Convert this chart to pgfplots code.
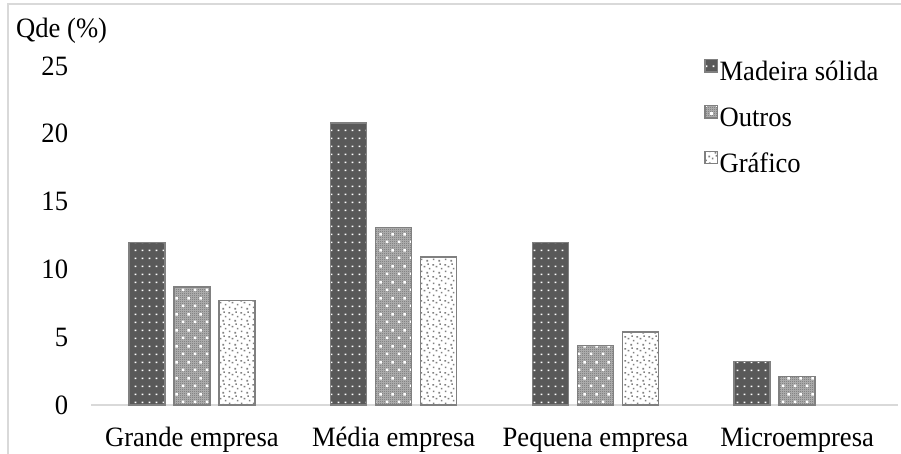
\documentclass[border=0pt]{standalone}
\usepackage{pgfplots}
\pgfplotsset{compat=1.18}
\usepackage{fontspec}
\setmainfont{Liberation Serif}[FakeStretch=0.95]
\usetikzlibrary{patterns.meta}
\definecolor{mdark}{HTML}{595959}
\definecolor{bord}{HTML}{808080}
\definecolor{frame}{HTML}{D9D9D9}
\definecolor{chk}{HTML}{505050}
\definecolor{chkbg}{HTML}{B8B8B8}
\tikzdeclarepattern{name=sqdots, type=uncolored,
  bottom left={(0pt,0pt)}, top right={(7.4pt,8pt)}, tile size={(7.4pt,8pt)},
  code={\fill (2.9pt,3.2pt) rectangle ++(1.8pt,1.8pt);}}
\tikzdeclarepattern{name=sparsedots, type=uncolored,
  bottom left={(0pt,0pt)}, top right={(12pt,16pt)}, tile size={(12pt,16pt)},
  code={\fill (2pt,3pt) rectangle ++(2.6pt,2.6pt); \fill (8pt,11pt) rectangle ++(2.6pt,2.6pt);}}
\tikzdeclarepattern{name=checker, type=uncolored,
  bottom left={(0pt,0pt)}, top right={(2pt,2pt)}, tile size={(2pt,2pt)},
  code={\fill (0pt,0pt) rectangle (1pt,1pt); \fill (1pt,1pt) rectangle (2pt,2pt);}}
\tikzdeclarepattern{name=scatter, type=uncolored,
  bottom left={(0pt,0pt)}, top right={(12pt,12pt)}, tile size={(12pt,12pt)},
  code={\fill (1pt,2pt) rectangle ++(1.7pt,1.7pt);
        \fill (7pt,0.5pt) rectangle ++(1.7pt,1.7pt);
        \fill (4pt,7pt) rectangle ++(1.7pt,1.7pt);
        \fill (9.5pt,5pt) rectangle ++(1.7pt,1.7pt);
        \fill (8pt,9.8pt) rectangle ++(1.7pt,1.7pt);
        \fill (0.5pt,9pt) rectangle ++(1.7pt,1.7pt);}}
\pgfplotsset{
  mylegend/.style={legend image code/.code={\path (0pt,0pt); \draw[##1,/tikz/.cd,line width=1pt] (0pt,1.5pt) rectangle (12.7pt,13.9pt);}},
  madeira/.style={draw=bord, line width=1.5pt, preaction={fill=mdark}, preaction={pattern=sqdots, pattern color=white}},
  outros/.style={draw=bord, line width=1.5pt, preaction={fill=chkbg}, preaction={pattern=checker, pattern color=chk}, preaction={pattern=sparsedots, pattern color=white}},
  grafico/.style={draw=bord, line width=1.5pt, preaction={fill=white}, preaction={pattern=scatter, pattern color=bord}},
}
\begin{document}
\fontsize{28}{32}\selectfont
\begin{tikzpicture}
\path[use as bounding box] (0pt,0pt) rectangle (901pt,454pt);
\draw[frame, line width=1.2pt] (8pt,-10pt) -- (8pt,450pt) -- (920pt,450pt);
\begin{axis}[
  at={(91pt,49pt)}, anchor=south west,
  scale only axis, width=807pt, height=339pt,
  xmin=-0.5, xmax=3.5, ymin=0, ymax=25,
  ybar=9pt, bar width=36pt,
  xtick={0,1,2,3},
  xticklabels={Grande empresa, Média empresa, Pequena empresa, Microempresa},
  ytick={0,5,...,25},
  major tick length=0pt,
  axis lines*=left,
  x axis line style={-, draw=frame, line width=1.2pt},
  y axis line style={draw=none},
  xticklabel style={anchor=base, yshift=-42pt, inner sep=0pt},
  yticklabel style={anchor=east, inner sep=0pt, xshift=-22.7pt},
  /pgf/number format/assume math mode=true,
  legend cell align=left,
  legend style={at={(0.7596,1.020)}, anchor=north west, draw=none, fill=none,
    inner sep=0pt, outer sep=0pt, row sep=18.4pt, column sep=0pt,
    nodes={inner sep=0pt, text height=20pt, text depth=6pt},
    /tikz/every odd column/.append style={column sep=1.6pt}},
  clip=false,
]
\addplot[madeira, mylegend] coordinates {(0,12.0) (1,20.8) (2,12.0) (3,3.2)};
\addplot[outros, mylegend] coordinates {(0,8.7) (1,13.1) (2,4.4) (3,2.1)};
\addplot[grafico, mylegend] coordinates {(0,7.7) (1,10.9) (2,5.4)};
\legend{Madeira sólida, Outros, Gráfico}
\end{axis}
\node[anchor=base west, inner sep=0pt] at (16pt,416.7pt) {Qde (\%)};
\end{tikzpicture}
\end{document}
